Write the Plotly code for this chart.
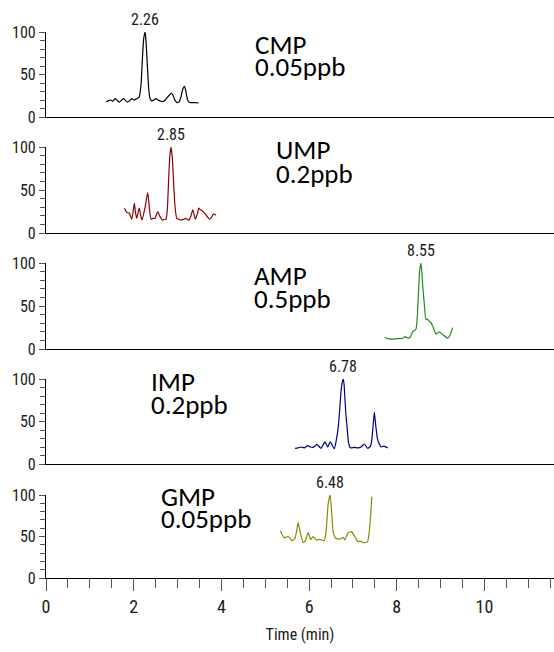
import plotly.graph_objects as go
from plotly.subplots import make_subplots

# ---- data -------------------------------------------------------------
compounds = ["CMP", "UMP", "AMP", "IMP", "GMP"]
concentrations = ["0.05ppb", "0.2ppb", "0.5ppb", "0.2ppb", "0.05ppb"]
peak_times = [2.26, 2.85, 8.55, 6.78, 6.48]
colors = ["#000000", "#8b0000", "#1f8f1f", "#00008b", "#8a8a00"]

cmp_time = [1.37, 1.42, 1.47, 1.52, 1.58, 1.63, 1.67, 1.72, 1.77, 1.82, 1.86,
            1.91, 1.96, 2.01, 2.05, 2.09, 2.13, 2.17, 2.20, 2.23, 2.26, 2.28,
            2.31, 2.34, 2.37, 2.41, 2.46, 2.51, 2.55, 2.60, 2.65, 2.70, 2.75,
            2.80, 2.86, 2.90, 2.95, 2.99, 3.04, 3.08, 3.12, 3.16, 3.19, 3.23,
            3.27, 3.33, 3.40, 3.48]
cmp_intensity = [18, 19, 20, 18.5, 21.5, 19, 17.5, 19.5, 22, 19, 17.5,
                 19.5, 21.5, 20, 21, 22, 24, 40, 70, 93, 100, 90,
                 62, 35, 22, 19, 20, 21.5, 20, 19, 18, 19, 22,
                 25, 28, 25, 19, 17, 18, 24, 33, 36, 30, 20,
                 17, 17, 17, 16.5]

ump_time = [1.79, 1.84, 1.90, 1.955, 1.99, 2.014, 2.04, 2.069, 2.10, 2.128,
            2.16, 2.19, 2.26, 2.32, 2.36, 2.396, 2.44, 2.487, 2.55, 2.60,
            2.663, 2.70, 2.738, 2.77, 2.795, 2.825, 2.852, 2.88, 2.909, 2.94,
            2.982, 3.03, 3.08, 3.14, 3.19, 3.26, 3.30, 3.348, 3.407, 3.45,
            3.485, 3.52, 3.56, 3.651, 3.727, 3.77, 3.818, 3.88]
ump_intensity = [28.7, 24, 23, 16, 26, 34.5, 24, 17, 24, 29,
                 20, 15, 30, 47, 28, 16, 17, 17, 25, 19,
                 15, 16, 16, 30, 60, 90, 100, 88, 60, 32,
                 17, 16, 15, 16, 17, 15, 19, 27, 16, 22,
                 29, 27, 26, 21, 16, 18, 22, 21]

amp_time = [7.729, 7.78, 7.82, 7.87, 7.934, 8.00, 8.071, 8.139, 8.192, 8.24,
            8.283, 8.32, 8.361, 8.436, 8.47, 8.493, 8.52, 8.55, 8.57, 8.589,
            8.626, 8.665, 8.70, 8.726, 8.779, 8.831, 8.893, 8.968, 9.06,
            9.16, 9.213, 9.274]
amp_intensity = [13.6, 12, 12, 11.5, 11.5, 12, 12, 12.5, 14.3, 13,
                 12.6, 15, 20, 23, 40, 65, 90, 100, 90, 75,
                 53, 34, 35, 33, 30.6, 25, 17.4, 20, 16.3,
                 12.4, 16, 24.8]

imp_time = [5.678, 5.75, 5.815, 5.89, 5.968, 6.03, 6.082, 6.13, 6.18, 6.271,
            6.362, 6.424, 6.483, 6.575, 6.62, 6.666, 6.70, 6.728, 6.755,
            6.78, 6.80, 6.819, 6.84, 6.865, 6.90, 6.94, 7.031, 7.116, 7.184,
            7.26, 7.337, 7.40, 7.429, 7.46, 7.488, 7.52, 7.566, 7.641, 7.703,
            7.794]
imp_intensity = [18.4, 19, 20, 19, 21.6, 20, 19.5, 21, 23, 18.5,
                 26, 20, 26, 18, 28, 44, 66, 85, 96,
                 100, 92, 75, 58, 44, 25, 19, 19.5, 19, 20,
                 23.5, 18.4, 21, 28, 45, 61, 45, 28, 20, 21,
                 19]

gmp_time = [5.345, 5.43, 5.521, 5.612, 5.672, 5.71, 5.749, 5.802, 5.863,
            5.916, 5.978, 6.037, 6.092, 6.167, 6.242, 6.343, 6.37, 6.395,
            6.436, 6.48, 6.514, 6.548, 6.608, 6.699, 6.777, 6.813, 6.891,
            6.966, 7.041, 7.119, 7.178, 7.233, 7.331, 7.384, 7.43]
gmp_intensity = [56.6, 48.6, 50, 45, 47, 55, 66.6, 53.8, 42.6,
                 45, 54.6, 46.6, 49.8, 45.8, 46.5, 45, 50, 60,
                 90, 100, 80, 55.8, 47.8, 47, 49, 46, 54.6,
                 55.8, 50, 43.7, 44.5, 42.6, 43.6, 61.8, 98]

series_time = [cmp_time, ump_time, amp_time, imp_time, gmp_time]
series_intensity = [cmp_intensity, ump_intensity, amp_intensity,
                    imp_intensity, gmp_intensity]

y_tick_values = [0, 50, 100]
y_tick_labels = ["0", "50", "100"]
x_tick_values = [0, 2, 4, 6, 8, 10]
x_tick_labels = ["0", "2", "4", "6", "8", "10"]
x_title = "Time (min)"

# ---- layout geometry (pixels) ----------------------------------------
W, H = 554, 652
ML, MR, MT, MB = 46, 0, 32, 74
PX_PER_MIN = 43.85
panel_top = [32, 147, 263, 379, 495]
panel_bottom = [117, 233, 349, 464, 578]
# (left x, centre y of name line, centre y of concentration line)
name_pos = [(253, 44, 66.5), (274, 149, 173.5), (252, 275, 298.5),
            (149, 381, 404), (159, 496.5, 518.5)]

plot_h = H - MT - MB
plot_w = W - ML - MR


def py_to_paper(py):
    return (H - MB - py) / plot_h


def px_to_paper(px):
    return (px - ML) / plot_w


NUM_FONT = ("Liberation Sans Narrow, Arial Narrow, Roboto Condensed, "
            "DejaVu Sans Condensed, Liberation Sans, sans-serif")
NAME_FONT = "Carlito, Calibri, Lato, sans-serif"

fig = make_subplots(rows=5, cols=1, shared_xaxes=True)

for i in range(5):
    fig.add_trace(
        go.Scatter(
            x=series_time[i], y=series_intensity[i], mode="lines",
            line=dict(color=colors[i], width=1.2, shape="spline", smoothing=0.5),
            cliponaxis=False, showlegend=False, hoverinfo="skip",
        ),
        row=i + 1, col=1,
    )

x_range = [0, plot_w / PX_PER_MIN]
annotations = []
for i in range(5):
    k = "" if i == 0 else str(i + 1)
    last = i == 4
    fig.layout["yaxis" + k].update(
        domain=[py_to_paper(panel_bottom[i]), py_to_paper(panel_top[i])],
        range=[0, 100], showline=True, linecolor="black", linewidth=1.2,
        showgrid=False, zeroline=False,
        tickmode="array", tickvals=y_tick_values, ticktext=y_tick_labels,
        ticks="outside", ticklen=6, tickcolor="#555", tickwidth=1,
        minor=dict(dtick=10, ticks="outside", ticklen=5, tickcolor="#555",
                   tickwidth=1, showgrid=False),
        tickfont=dict(family=NUM_FONT, size=16, color="#1a1a1a"),
    )
    xa = dict(
        range=x_range, showline=True, linecolor="black", linewidth=1.3,
        showgrid=False, zeroline=False,
    )
    if last:
        xa.update(
            tickmode="array", tickvals=x_tick_values, ticktext=x_tick_labels,
            ticks="outside", ticklen=12, tickcolor="#555", tickwidth=1.2,
            minor=dict(dtick=0.5, ticks="outside", ticklen=9,
                       tickcolor="#555", tickwidth=1.2, showgrid=False),
            showticklabels=True,
            tickfont=dict(family=NUM_FONT, size=18, color="#1a1a1a"),
            title=dict(text=x_title, standoff=13,
                       font=dict(family=NUM_FONT, size=16, color="#1a1a1a")),
        )
    else:
        xa.update(ticks="", showticklabels=False)
    fig.layout["xaxis" + k].update(**xa)

    # retention-time label above each peak
    annotations.append(dict(
        x=peak_times[i], y=100, xref="x" + k, yref="y" + k,
        text=f"{peak_times[i]:.2f}", showarrow=False,
        xanchor="center", yanchor="bottom", yshift=1,
        font=dict(family=NUM_FONT, size=16, color="#1a1a1a"),
    ))
    # compound name and concentration
    nx, ny1, ny2 = name_pos[i]
    for txt, ny in ((compounds[i], ny1), (concentrations[i], ny2)):
        annotations.append(dict(
            x=px_to_paper(nx), y=py_to_paper(ny), xref="paper", yref="paper",
            text=txt, showarrow=False, xanchor="left", yanchor="middle",
            font=dict(family=NAME_FONT, size=27, color="#000000"),
        ))

fig.update_layout(
    width=W, height=H,
    margin=dict(l=ML, r=MR, t=MT, b=MB),
    paper_bgcolor="white", plot_bgcolor="white",
    annotations=annotations,
)

fig.write_html("out.html")
